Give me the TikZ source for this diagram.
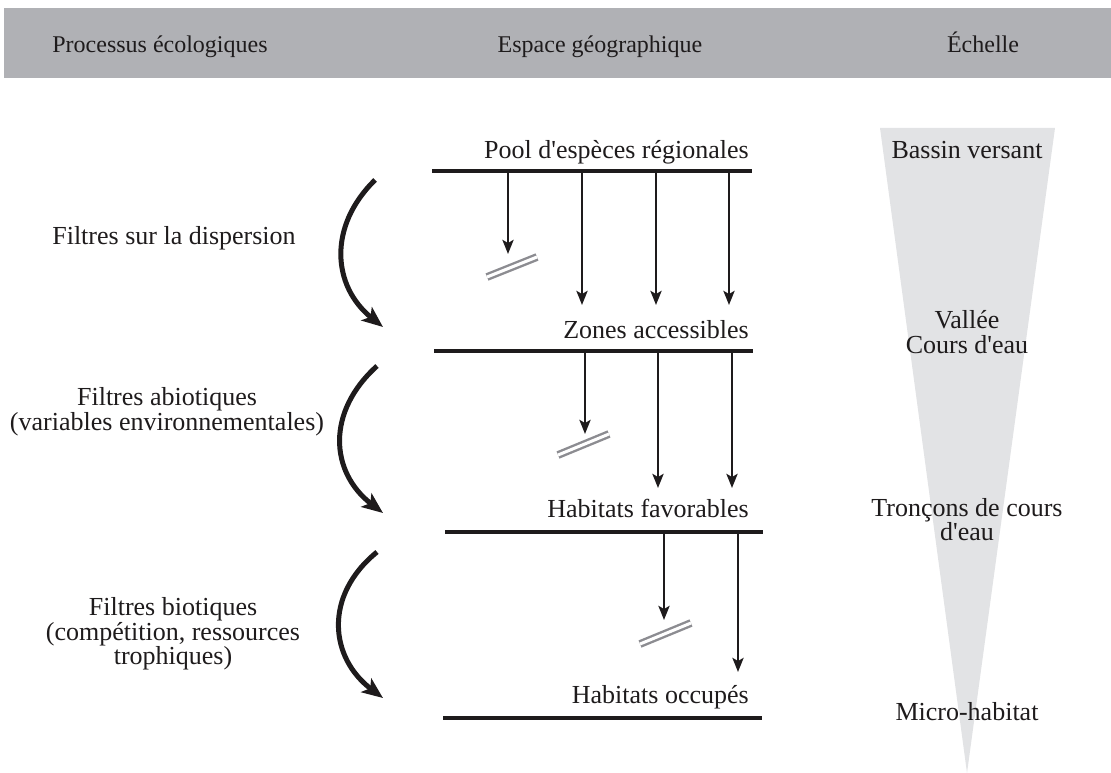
\documentclass[tikz,border=0pt]{standalone}
\usepackage{fontspec}
\setmainfont{Liberation Serif}[Ligatures=TeXOff]
\usepackage{xcolor}
\usetikzlibrary{arrows.meta, positioning}
\definecolor{headgray}{RGB}{176, 177, 181}
\definecolor{scalegray}{RGB}{226, 227, 229}
\definecolor{bargray}{RGB}{140, 140, 145}
\definecolor{inkblack}{RGB}{30, 27, 28}

\begin{document}
\begin{tikzpicture}[x=1pt, y=-1pt,
    headtxt/.style={font=\fontsize{24}{24}\selectfont, text=inkblack, inner sep=0pt, anchor=base},
    txt/.style={font=\fontsize{26}{22}\selectfont, text=inkblack, inner sep=0pt, align=center},
    scaletxt/.style={font=\fontsize{26}{25}\selectfont, text=inkblack, inner sep=0pt, align=center},
    level/.style={draw=inkblack, line width=3.6pt},
    flow/.style={draw=inkblack, line width=2.8pt, -{Stealth[length=14pt, width=11pt, inset=3pt]}},
    filter/.style={draw=inkblack, line width=5pt, -{Stealth[length=21pt, width=17pt, inset=5pt]}},
    blocked/.style={draw=bargray, double=white, double distance=3pt, line width=2.4pt}]
    \useasboundingbox (0,0) rectangle (1111,773);

    % header band
    \fill[headgray] (4,8) rectangle (1111,78);
    \node[headtxt] (hproc) at (160,53) {Processus écologiques};
    \node[headtxt] (hesp) at (600,53) {Espace géographique};
    \node[headtxt] (hech) at (983,53) {Échelle};

    % scale wedge
    \fill[scalegray] (880,128) -- (1055,128) -- (967,773) -- cycle;
    \node[scaletxt, anchor=base] (bassin) at (967,159) {Bassin versant};
    \node[scaletxt, anchor=base] (vallee) at (967,328) {Vallée};
    \node[scaletxt, anchor=base] (cours) at (967,353) {Cours d'eau};
    \node[scaletxt, anchor=base] (troncons) at (967,516) {Tronçons de cours};
    \node[scaletxt, anchor=base] (deau) at (967,540) {d'eau};
    \node[scaletxt, anchor=base] (micro) at (967,720) {Micro-habitat};

    % geographic levels
    \coordinate (poolL) at (432,171);  \coordinate (poolR) at (752,171);
    \coordinate (zoneL) at (434,351);  \coordinate (zoneR) at (753,351);
    \coordinate (favL) at (445,532);   \coordinate (favR) at (763,532);
    \coordinate (occL) at (443,718);   \coordinate (occR) at (762,718);
    \draw[level] (poolL) -- (poolR);
    \draw[level] (zoneL) -- (zoneR);
    \draw[level] (favL) -- (favR);
    \draw[level] (occL) -- (occR);
    \node[txt, anchor=base east] (pool) at (749,158) {Pool d'espèces régionales};
    \node[txt, anchor=base east] (zones) at (749,338) {Zones accessibles};
    \node[txt, anchor=base east] (fav) at (749,517) {Habitats favorables};
    \node[txt, anchor=base east] (occ) at (749,703) {Habitats occupés};

    % species flows
    \coordinate (p1) at (508,171); \coordinate (p1e) at (508,254);
    \coordinate (p2) at (582,171); \coordinate (p2e) at (582,305);
    \coordinate (p3) at (656,171); \coordinate (p3e) at (656,305);
    \coordinate (p4) at (729,171); \coordinate (p4e) at (729,305);
    \draw[flow] (p1) -- (p1e);
    \draw[flow] (p2) -- (p2e);
    \draw[flow] (p3) -- (p3e);
    \draw[flow] (p4) -- (p4e);
    \coordinate (z1) at (585,351); \coordinate (z1e) at (585,434);
    \coordinate (z2) at (658,351); \coordinate (z2e) at (658,488);
    \coordinate (z3) at (732,351); \coordinate (z3e) at (732,488);
    \draw[flow] (z1) -- (z1e);
    \draw[flow] (z2) -- (z2e);
    \draw[flow] (z3) -- (z3e);
    \coordinate (f1) at (664,532); \coordinate (f1e) at (664,620);
    \coordinate (f2) at (738,532); \coordinate (f2e) at (738,672);
    \draw[flow] (f1) -- (f1e);
    \draw[flow] (f2) -- (f2e);

    % blocked species
    \coordinate (b1a) at (487,277); \coordinate (b1b) at (537,257);
    \coordinate (b2a) at (558,455); \coordinate (b2b) at (609,434);
    \coordinate (b3a) at (640,644); \coordinate (b3b) at (691,623);
    \draw[blocked] (b1a) -- (b1b);
    \draw[blocked] (b2a) -- (b2b);
    \draw[blocked] (b3a) -- (b3b);

    % ecological filters
    \node[txt, anchor=base] (disp) at (174,244) {Filtres sur la dispersion};
    \node[txt] (abio) at (167,412) {Filtres abiotiques\\(variables environnementales)};
    \node[txt] (bio) at (173,634) {Filtres biotiques\\(compétition, ressources\\trophiques)};
    \coordinate (c1s) at (375,180); \coordinate (c1e) at (383,327);
    \coordinate (c2s) at (377,366); \coordinate (c2e) at (383,513);
    \coordinate (c3s) at (377,552); \coordinate (c3e) at (383,698);
    \draw[filter] (c1s) .. controls (328,226) and (332,286) .. (c1e);
    \draw[filter] (c2s) .. controls (326,412) and (330,472) .. (c2e);
    \draw[filter] (c3s) .. controls (323,596) and (330,658) .. (c3e);
\end{tikzpicture}
\end{document}
